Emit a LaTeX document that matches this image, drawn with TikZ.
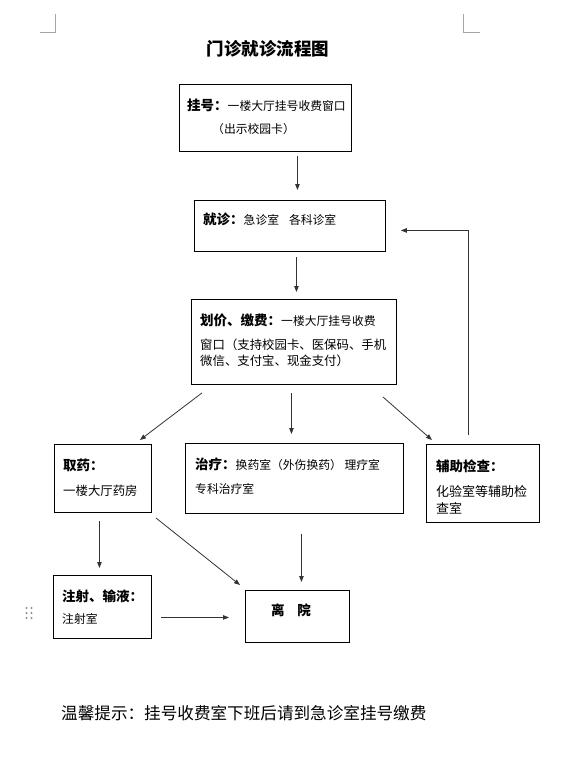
\documentclass[tikz,border=0pt]{standalone}
\usepackage{fontspec}
\setmainfont{Noto Sans CJK SC}
\usetikzlibrary{arrows.meta,calc}
\begin{document}
\begin{tikzpicture}[x=1pt,y=-1pt,
  box/.style={draw,line width=0.9pt,inner sep=0pt,anchor=north west},
  txt/.style={anchor=west,inner sep=0pt,font=\fontsize{11.8}{14}\selectfont},
  arr/.style={draw=black!80,line width=0.8pt,-{Triangle[length=6pt,width=4.5pt]}},
  corner/.style={draw=black!35,line width=0.6pt},
  dot/.style={fill=black!45,draw=none}]
\useasboundingbox (0,0) rectangle (568,758);
% page corner marks
\draw[corner] (55,14) -- (55,32) -- (40,32);
\draw[corner] (463,14) -- (463,32) -- (480,32);
% title
\node[inner sep=0pt,font=\bfseries\fontsize{17.5}{20}\selectfont] (title) at (268,49) {门诊就诊流程图};
% boxes
\node[box,minimum width=172pt,minimum height=67pt] (b1) at (179,84) {};
\node[box,minimum width=191pt,minimum height=51pt] (b2) at (194,200) {};
\node[box,minimum width=205pt,minimum height=85pt] (b3) at (191,299) {};
\node[box,minimum width=97pt,minimum height=68pt] (qu) at (54,444) {};
\node[box,minimum width=218pt,minimum height=70pt] (zl) at (185,443) {};
\node[box,minimum width=113pt,minimum height=78pt] (fz) at (426,444) {};
\node[box,minimum width=98pt,minimum height=63pt] (zs) at (53,575) {};
\node[box,minimum width=104pt,minimum height=52pt] (ly) at (245,590) {};
% texts
\node[txt] (t1a) at (187,105) {{\bfseries\fontsize{13.5}{15}\selectfont 挂号：}一楼大厅挂号收费窗口};
\node[txt] (t1b) at (212,129) {（出示校园卡）};
\node[txt] (t2a) at (203,219) {{\bfseries\fontsize{13.5}{15}\selectfont 就诊：}急诊室\hspace{10pt}各科诊室};
\node[txt] (t3a) at (200,320) {{\bfseries\fontsize{13.5}{15}\selectfont 划价、缴费：}一楼大厅挂号收费};
\node[txt,font=\fontsize{12.4}{14}\selectfont] (t3b) at (200,345) {窗口（支持校园卡、医保码、手机};
\node[txt,font=\fontsize{12.4}{14}\selectfont] (t3c) at (200,361) {微信、支付宝、现金支付）};
\node[txt] (tqa) at (63,465) {{\bfseries\fontsize{13.5}{15}\selectfont 取药：}};
\node[txt,font=\fontsize{12.4}{14}\selectfont] (tqb) at (63,491) {一楼大厅药房};
\node[txt] (tza) at (195,464) {{\bfseries\fontsize{13.5}{15}\selectfont 治疗：}换药室（外伤换药） 理疗室};
\node[txt] (tzb) at (195,489) {专科治疗室};
\node[txt] (tfa) at (436,466) {{\bfseries\fontsize{13.5}{15}\selectfont 辅助检查：}};
\node[txt,font=\fontsize{13}{15}\selectfont] (tfb) at (436,492) {化验室等辅助检};
\node[txt,font=\fontsize{13}{15}\selectfont] (tfc) at (436,508) {查室};
\node[txt] (tsa) at (62,596) {{\bfseries\fontsize{13.5}{15}\selectfont 注射、输液：}};
\node[txt] (tsb) at (62,619) {注射室};
\node[inner sep=0pt,font=\bfseries\fontsize{13.5}{15}\selectfont] (tly) at (291,610) {离\hspace{13pt}院};
% footer
\node[txt,font=\fontsize{16.6}{19}\selectfont] (foot) at (61,713) {温馨提示：挂号收费室下班后请到急诊室挂号缴费};
% drag handle dots
\foreach \yy in {608,613,618}{
  \fill[dot] (26.5,\yy) circle (1.1pt);
  \fill[dot] (31.5,\yy) circle (1.1pt);
}
% connectors
\draw[arr] ([shift={(32,4)}]b1.south) -- ([shift={(7.5,-10)}]b2.north);
\draw[arr] ([shift={(6.5,5)}]b2.south) -- ([shift={(2.5,-7)}]b3.north);
\draw[arr] ([shift={(11,8)}]b3.south west) -- ([shift={(37,-4)}]qu.north);
\draw[arr] ([shift={(-2.5,8)}]b3.south) -- ([shift={(-3,-9)}]zl.north);
\draw[arr] ([shift={(-14,12)}]b3.south east) -- ([shift={(-51,-4)}]fz.north);
\draw[arr] ([shift={(-14.5,-9)}]fz.north) |- ([shift={(15,4.5)}]b2.east);
\draw[arr] ([shift={(-3.5,8)}]qu.south) -- ([shift={(-3,-7)}]zs.north);
\draw[arr] ([shift={(4,5)}]qu.south east) -- ([shift={(-5,-5)}]ly.north west);
\draw[arr] ([shift={(7,20)}]zl.south) -- ([shift={(4,-8)}]ly.north);
\draw[arr] ([shift={(9,10.5)}]zs.east) -- ([shift={(-16,1)}]ly.west);
\end{tikzpicture}
\end{document}
